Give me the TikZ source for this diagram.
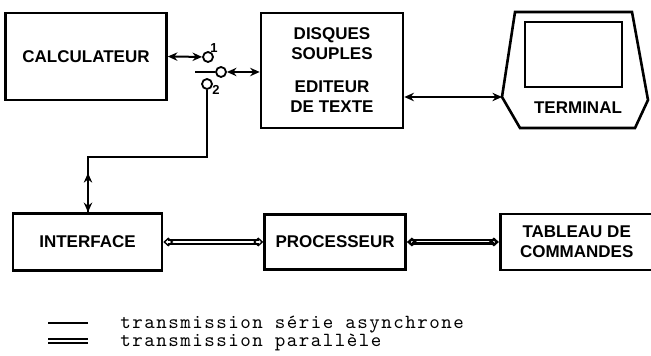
\documentclass[tikz,border=0pt]{standalone}
\usepackage{fontspec}
\setmainfont{Liberation Sans}
\newfontfamily\legendfont{lmmono10-regular.otf}[LetterSpace=7.5]
\usetikzlibrary{arrows.meta,positioning}

\begin{document}
\begin{tikzpicture}[
  x=0.5pt, y=-0.5pt,
  blk/.style={rectangle,draw,line width=1.3pt,inner sep=0pt,align=center,
              font=\bfseries\fontsize{8.5}{10}\selectfont},
  wire/.style={line width=1pt},
  serial/.style={wire,{Stealth[length=4.8pt,width=4.2pt]}-{Stealth[length=4.8pt,width=4.2pt]}},
  par/.style={double,line width=0.7pt,double distance=1.4pt,
              {Diamond[open,length=5pt,width=4.5pt]}-{Diamond[open,length=5pt,width=4.5pt]}},
  parthick/.style={double,line width=1.2pt,double distance=0.5pt,
              {Diamond[open,length=5pt,width=4.5pt]}-{Diamond[open,length=5pt,width=4.5pt]}},
  contact/.style={circle,draw,line width=0.9pt,inner sep=0pt,minimum size=5pt,fill=white},
  num/.style={inner sep=0pt,font=\bfseries\fontsize{6.5}{7}\selectfont},
  legend/.style={anchor=base west,inner sep=0pt,font=\legendfont\fontsize{10}{12}\selectfont}
]
  \useasboundingbox (0,0) rectangle (651,356);

  % top row
  \node[blk,minimum width=80.5pt,minimum height=43.5pt] (calc) at (86,56.5) {CALCULATEUR};
  \node[blk,minimum width=71pt,minimum height=57.5pt] (disques) at (332,70.5)
    {DISQUES\\SOUPLES\\[6.5pt]EDITEUR\\DE TEXTE};

  % terminal
  \coordinate (termL) at (502,97);
  \draw[line width=1.3pt] (515,12) -- (632,12) -- (648,100) -- (635,128) -- (520,128) -- (termL) -- cycle;
  \draw[line width=1.3pt] (525,22) rectangle (622,87);
  \node[inner sep=0pt,font=\bfseries\fontsize{8.5}{10}\selectfont] (terminal) at (578,108) {TERMINAL};

  % switch
  \node[contact] (c1) at (208,57) {};
  \node[contact] (c2) at (207,84) {};
  \node[contact] (pivot) at (221,72) {};
  \coordinate (blade) at (195,72);
  \node[num] (n1) at (214,48) {1};
  \node[num] (n2) at (216,90) {2};
  \draw[wire] (blade) -- (pivot);

  % bottom row
  \node[blk,minimum width=74.5pt,minimum height=28.5pt] (interface) at (87.5,242) {INTERFACE};
  \node[blk,minimum width=70.5pt,minimum height=27.5pt,right=50pt of interface] (proc) {PROCESSEUR};
  \node[blk,minimum width=76.5pt,minimum height=28pt,right=46pt of proc] (tableau) {TABLEAU DE\\COMMANDES};

  % links
  \draw[serial] (calc.east) -- (c1);
  \draw[serial] (pivot) -- (pivot -| disques.west);
  \draw[serial] (disques.east |- termL) -- (termL);
  \coordinate (bend) at (88,157);
  \draw[wire] (c2) |- (bend) -- (bend |- interface.north);
  \draw[serial,shorten <=8pt] (bend) -- (bend |- interface.north);
  \draw[par] (interface.east) -- (proc.west);
  \draw[parthick] (proc.east) -- (tableau.west);

  % legend
  \node[legend] (lgser) at (120,329) {transmission série asynchrone};
  \node[legend] (lgpar) at (120,347) {transmission parallèle};
  \draw[wire] ([xshift=-16pt,yshift=3pt]lgser.base west) -- ++(-40,0);
  \draw[double,line width=0.7pt,double distance=1.2pt] ([xshift=-16pt,yshift=3pt]lgpar.base west) -- ++(-40,0);
\end{tikzpicture}
\end{document}
